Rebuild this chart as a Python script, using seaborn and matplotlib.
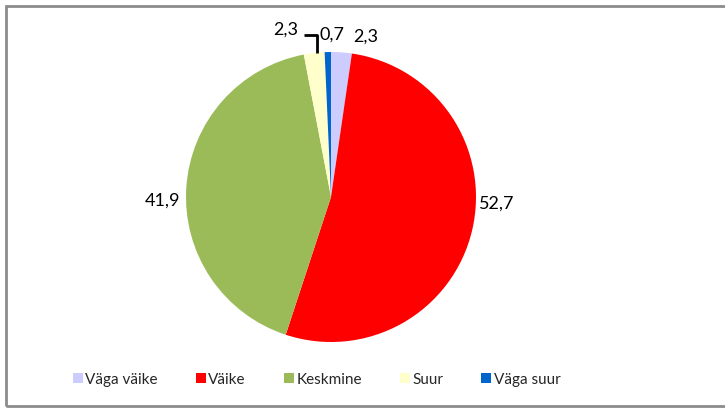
import matplotlib.pyplot as plt
import matplotlib.patches as mpatches
import seaborn as sns

# data
categories = ["Väga väike", "Väike", "Keskmine", "Suur", "Väga suur"]
shares = [2.3, 52.7, 41.9, 2.3, 0.7]
colors = ["#CCCCFF", "#FF0000", "#9BBB59", "#FFFFCC", "#0066CC"]

# label positions (data units, pie radius = 1) as Excel placed them
label_pos = [(0.24, 1.11), (1.14, -0.04), (-1.16, -0.02), (-0.31, 1.16), (0.01, 1.13)]

sns.set_theme(style="white")
plt.rcParams["font.family"] = ["Lato", "DejaVu Sans"]

fig = plt.figure(figsize=(7.25, 4.1), dpi=100)

# outer chart frame
fig.patches.append(mpatches.Rectangle((6 / 725, 3 / 410), 730 / 725, 400 / 410,
                                      transform=fig.transFigure, fill=False,
                                      edgecolor="#8c8c8c", linewidth=2))

cx, cy, r = 331, 198, 145
ax = fig.add_axes([(cx - r) / 725, (410 - cy - r) / 410, 2 * r / 725, 2 * r / 410])

wedges, _ = ax.pie(shares, colors=colors, startangle=90, counterclock=False,
                   radius=1, wedgeprops=dict(linewidth=0))

for val, (x, y) in zip(shares, label_pos):
    ax.text(x, y, f"{val:.1f}".replace(".", ","), ha="center", va="center",
            fontsize=13, color="black")

# leader line for the small 0,7 slice
ax.plot([-0.10, -0.10, -0.185], [0.99, 1.115, 1.115], color="black",
        linewidth=2, solid_capstyle="butt", clip_on=False)

ax.set_xlim(-1, 1)
ax.set_ylim(-1, 1)
ax.set_aspect("equal")
ax.axis("off")

handles = [mpatches.Patch(facecolor=c, edgecolor="none") for c in colors]
fig.legend(handles, categories, loc="center", bbox_to_anchor=(0.437, 0.073),
           ncol=5, frameon=False, fontsize=11, handlelength=0.65, handleheight=0.65,
           handletextpad=0.15, columnspacing=2.5)

fig.savefig("out.png", dpi=100)
